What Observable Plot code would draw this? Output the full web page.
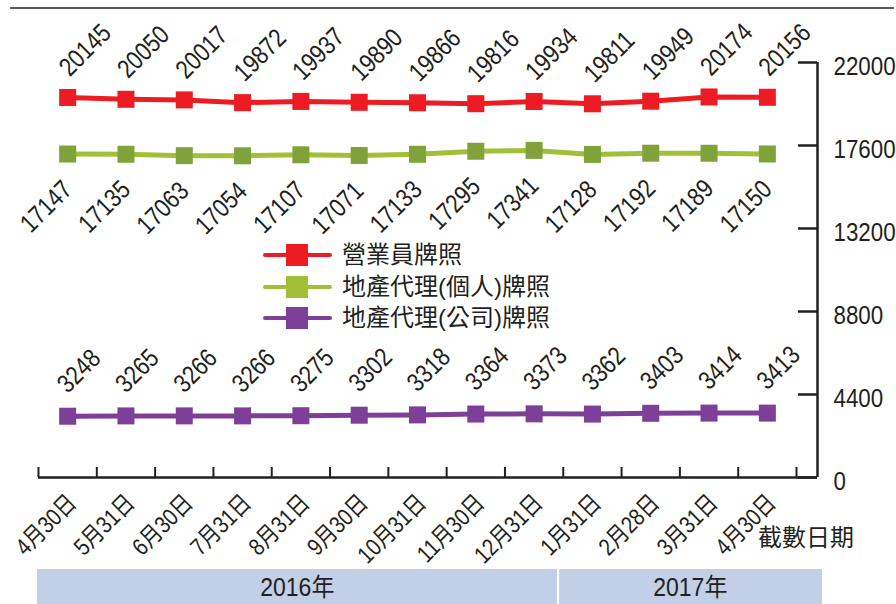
<!DOCTYPE html>
<html><head><meta charset="utf-8">
<script src="https://cdn.jsdelivr.net/npm/d3@7"></script>
<script src="https://cdn.jsdelivr.net/npm/@observablehq/plot@0.6"></script>
<style>
body{margin:0;background:#fff;}
#wrap{position:relative;width:896px;height:604px;overflow:hidden;font-family:"Liberation Sans","Noto Sans CJK TC",sans-serif;color:#231f20;}
#topline{position:absolute;left:10px;top:7px;width:884px;height:2px;background:#5a5a5a;}
#chart{position:absolute;left:0;top:0;}
.leg{position:absolute;left:263px;height:30px;display:flex;align-items:center;font-size:24px;line-height:1;white-space:nowrap;}
.sw{position:relative;width:69px;height:30px;margin-right:10px;flex:none;}
.sw .ln{position:absolute;left:0;top:13px;width:69px;height:4px;border-radius:2px;}
.sw .sq{position:absolute;left:23px;top:4px;width:22px;height:22px;}
#xtitle{position:absolute;left:758px;top:526px;font-size:24px;line-height:1;}
.yr{position:absolute;top:569px;height:36px;background:#c1d0e6;font-size:25px;line-height:1;display:flex;align-items:center;justify-content:center;}
.yr span{display:inline-block;transform:scaleX(0.92);}
</style></head><body>
<div id="wrap"><div id="topline"></div><div id="chart"></div></div>
<script>
const dates = ["4月30日","5月31日","6月30日","7月31日","8月31日","9月30日","10月31日","11月30日","12月31日","1月31日","2月28日","3月31日","4月30日"];
const salesperson = [20145,20050,20017,19872,19937,19890,19866,19816,19934,19811,19949,20174,20156];
const individual = [17147,17135,17063,17054,17107,17071,17133,17295,17341,17128,17192,17189,17150];
const company = [3248,3265,3266,3266,3275,3302,3318,3364,3373,3362,3403,3414,3413];
const seriesNames = ["營業員牌照","地產代理(個人)牌照","地產代理(公司)牌照"];
const lineColors = ["#ed1c24","#a2c037","#7d3f98"];
const markerColors = ["#ed1c24","#7fa33a","#7d3f98"];
const yTicks = [0,4400,8800,13200,17600,22000];
const years = ["2016年","2017年"];
const yearStart = [-0.51, 8.43];
const yearEnd = [8.40, 12.94];
const xTitle = "截數日期";

const idx = dates.map((_, i) => i);
const bounds = d3.range(dates.length + 1).map(i => i - 0.5);
const rows = vals => vals.map((v, i) => ({i, v}));
const S = [rows(salesperson), rows(individual), rows(company)];
const xDomain = [-0.5, 12.86];
const ink = "#231f20";
const W = 896, H = 566, mL = 38, mR = 79, mT = 62, mB = 89;
const fw = W - mL - mR, fh = H - mT - mB;

const labelOpts = [
  {textAnchor:"start", dx:2, dy:-20},
  {textAnchor:"end", dx:6, dy:37},
  {textAnchor:"start", dx:0, dy:-22}
];

const marks = [
  Plot.ruleY([0], {stroke: ink, strokeWidth: 2.5}),
  Plot.ruleX([xDomain[1]], {y1: 0, y2: 22000, stroke: ink, strokeWidth: 2.5}),
  Plot.tickX(bounds, {x: d => d, insetTop: fh - 10, stroke: ink, strokeWidth: 2}),
  Plot.tickY(yTicks, {y: d => d, insetLeft: fw - 19, stroke: ink, strokeWidth: 2.5}),
  Plot.text(yTicks, {y: d => d, text: d => String(d), frameAnchor: "right", textAnchor: "start", dx: 16, dy: 4, fontSize: 26, fill: ink, className: "cond86"}),
  Plot.text(idx, {x: d => d, text: i => dates[i], frameAnchor: "bottom", rotate: -45, textAnchor: "end", lineAnchor: "bottom", dx: 10, dy: 27, fontSize: 24, fill: ink, className: "cond84"})
];
S.forEach((data, k) => {
  marks.push(Plot.line(data, {x: "i", y: "v", stroke: lineColors[k], strokeWidth: 5}));
  marks.push(Plot.dot(data, {x: "i", y: "v", symbol: "square", r: 9.6, fill: markerColors[k], strokeWidth: 0}));
  marks.push(Plot.text(data, {x: "i", y: "v", text: d => String(d.v), rotate: -45, lineAnchor: "bottom", fontSize: 26, fill: ink, className: "cond84", ...labelOpts[k]}));
});

const plot = Plot.plot({
  width: W, height: H,
  marginLeft: mL, marginRight: mR, marginTop: mT, marginBottom: mB,
  style: {fontFamily: '"Liberation Sans","Noto Sans CJK TC",sans-serif', color: ink, background: "transparent", overflow: "visible"},
  x: {domain: xDomain, axis: null},
  y: {domain: [0, 22000], axis: null},
  marks
});
// condense the label glyphs horizontally (the source uses a condensed face)
[["cond84", 0.84], ["cond86", 0.86]].forEach(([c, s]) => {
  plot.querySelectorAll(`g.${c} text`).forEach(t => {
    const tr = t.getAttribute("transform") || "";
    t.setAttribute("transform", `${tr} scale(${s},1)`);
  });
});
document.getElementById("chart").appendChild(plot);

const wrap = document.getElementById("wrap");
const sx = plot.scale("x");
years.forEach((t, k) => {
  const a = sx.apply(yearStart[k]), b = sx.apply(yearEnd[k]);
  const d = document.createElement("div");
  d.className = "yr";
  d.style.left = a + "px";
  d.style.width = (b - a) + "px";
  d.innerHTML = `<span>${t}</span>`;
  wrap.appendChild(d);
});
const legTops = [240, 272, 303];
seriesNames.forEach((n, k) => {
  const d = document.createElement("div");
  d.className = "leg";
  d.style.top = legTops[k] + "px";
  d.innerHTML = `<div class="sw"><div class="ln" style="background:${lineColors[k]}"></div><div class="sq" style="background:${k===1?lineColors[k]:markerColors[k]}"></div></div><span>${n}</span>`;
  wrap.appendChild(d);
});
const xt = document.createElement("div");
xt.id = "xtitle";
xt.textContent = xTitle;
wrap.appendChild(xt);
</script>
</body></html>
